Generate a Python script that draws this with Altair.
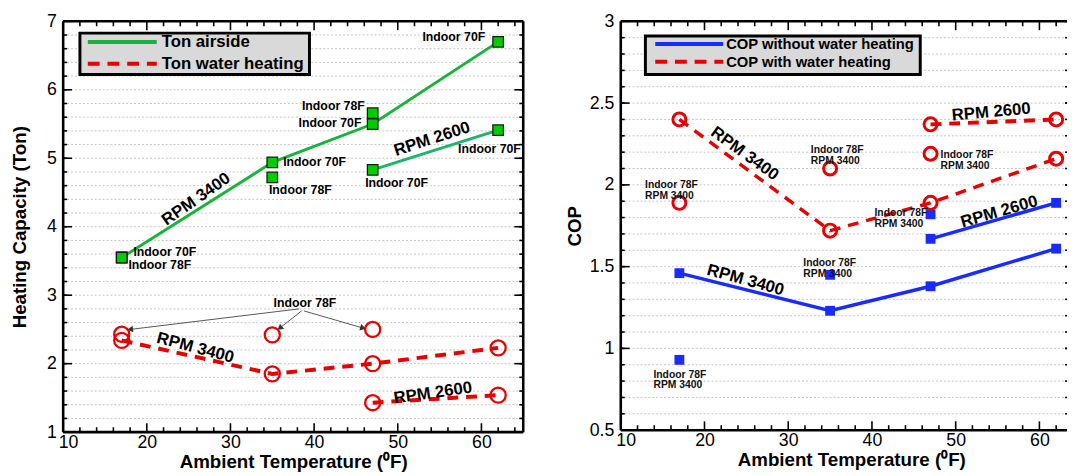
import math
import altair as alt
import pandas as pd

FONT = "Liberation Sans"

# ---------------- data: left panel (heating capacity, Ton) ----------------
t_3400 = [17, 35, 47, 62]
t_2600 = [47, 62]
t_78f = [17, 35, 47]
ton_air_3400 = [3.55, 4.94, 5.50, 6.70]
ton_air_2600 = [4.83, 5.41]
ton_air_78f = [3.55, 4.72, 5.66]
ton_wh_3400 = [2.34, 1.85, 2.00, 2.23]
ton_wh_2600 = [1.43, 1.54]
ton_wh_78f = [2.43, 2.42, 2.50]

# ---------------- data: right panel (COP) ----------------
cop_no_3400 = [1.46, 1.23, 1.38, 1.61]
cop_no_2600 = [1.67, 1.89]
cop_no_78f = [0.93, 1.45, 1.82]
cop_wh_3400 = [2.40, 1.72, 1.89, 2.16]
cop_wh_2600 = [2.37, 2.40]
cop_wh_78f = [1.89, 2.10, 2.19]

# ---------------- text / annotations ----------------
x_tick_values = [10, 20, 30, 40, 50, 60]
left_y_ticks = [1, 2, 3, 4, 5, 6, 7]
right_y_ticks = [0.5, 1, 1.5, 2, 2.5, 3]
x_title = "Ambient Temperature (⁰F)"
left_y_title = "Heating Capacity (Ton)"
right_y_title = "COP"
left_legend = ["Ton airside", "Ton water heating"]
right_legend = ["COP without water heating", "COP with water heating"]

left_rpm_text = ["RPM 3400", "RPM 2600", "RPM 3400", "RPM 2600"]
left_rpm_x = [25.9, 54.1, 25.8, 54.2]
left_rpm_y = [4.40, 5.28, 2.23, 1.57]
left_rpm_angle = [325, 342, 15, 352]

left_c_text = ["Indoor 70F", "Indoor 78F", "Indoor 70F", "Indoor 78F"]
left_c_x = [56.7, 42.3, 41.9, 38.9]
left_c_y = [6.77, 5.76, 5.52, 2.88]

left_l_text = ["Indoor 70F", "Indoor 70F", "Indoor 78F", "Indoor 70F", "Indoor 70F", "Indoor 78F"]
left_l_x = [57.2, 36.3, 34.6, 46.1, 18.4, 17.8]
left_l_y = [5.14, 4.95, 4.54, 4.64, 3.63, 3.44]

arrow_x0 = [38.2, 38.5, 38.8]
arrow_y0 = [2.80, 2.77, 2.77]
arrow_x1 = [18.0, 35.9, 45.85]
arrow_y1 = [2.50, 2.52, 2.52]

right_rpm_text = ["RPM 3400", "RPM 2600", "RPM 2600", "RPM 3400"]
right_rpm_x = [24.8, 54.25, 55.2, 24.9]
right_rpm_y = [2.19, 2.445, 1.835, 1.417]
right_rpm_angle = [36, 355, 344, 15.5]

right_note_text = "Indoor 78F\nRPM 3400"
right_note_x = [12.9, 32.7, 48.2, 40.3, 31.8, 13.9]
right_note_y = [2.00, 2.21, 2.18, 1.825, 1.52, 0.84]

# ---------------- layout ----------------
W1, H1 = 467, 417
W2, H2 = 453, 415
X1_DOM = [10, 65]
X2_DOM = [10, 63.3]
Y1_DOM = [1, 7]
Y2_DOM = [0.5, 3]

GREEN = "#19b33c"
GREEN2 = "#1fb36b"
GREEN_FILL = "#00cc00"
RED = "#e60000"
BLUE = "#1a2bff"
ONE = pd.DataFrame({"k": [0]})


def df(xs, ys, **extra):
    d = pd.DataFrame({"x": xs, "y": ys})
    for k, v in extra.items():
        d[k] = v
    return d


def frame_layers(W, H, xdom, y_major, y_minor, x_enc, y_enc, right_edge=True):
    layers = []
    # horizontal dotted grid
    layers.append(alt.Chart(pd.DataFrame({"y": y_minor})).mark_rule(
        color="#c4c4c4", strokeWidth=1, strokeDash=[2, 2]).encode(
        y=y_enc, x=alt.value(0), x2=alt.value(W)))
    # x ticks (inward, top and bottom)
    xmaj = [v for v in x_tick_values if xdom[0] < v < xdom[1]]
    xmin = [v for v in range(12, int(xdom[1]) + 1, 2) if v % 10 != 0]
    for vals, ln in ((xmaj, 9), (xmin, 5)):
        d = pd.DataFrame({"x": vals})
        layers.append(alt.Chart(d).mark_rule(color="#000", strokeWidth=1.6).encode(
            x=x_enc, y=alt.value(H), y2=alt.value(H - ln)))
        layers.append(alt.Chart(d).mark_rule(color="#000", strokeWidth=1.6).encode(
            x=x_enc, y=alt.value(0), y2=alt.value(ln)))
    # y ticks (left and right)
    for vals, ln in ((y_major, 9), (y_minor, 4)):
        d = pd.DataFrame({"y": vals})
        layers.append(alt.Chart(d).mark_rule(color="#000", strokeWidth=1.6).encode(
            y=y_enc, x=alt.value(0), x2=alt.value(ln)))
        rl = ln if right_edge else 2
        layers.append(alt.Chart(d).mark_rule(color="#000", strokeWidth=1.6).encode(
            y=y_enc, x=alt.value(W - rl), x2=alt.value(W)))
    # frame
    fw = 2.6
    layers.append(alt.Chart(ONE).mark_rule(color="#000", strokeWidth=fw).encode(
        x=alt.value(0), y=alt.value(0), y2=alt.value(H)))
    layers.append(alt.Chart(ONE).mark_rule(color="#000", strokeWidth=fw).encode(
        y=alt.value(0), x=alt.value(0), x2=alt.value(W)))
    layers.append(alt.Chart(ONE).mark_rule(color="#000", strokeWidth=fw).encode(
        y=alt.value(H), x=alt.value(0), x2=alt.value(W)))
    if right_edge:
        layers.append(alt.Chart(ONE).mark_rule(color="#000", strokeWidth=fw).encode(
            x=alt.value(W), y=alt.value(0), y2=alt.value(H)))
    return layers


def legend_layers(box, solid_color, labels, line_y, line_x, text_x, fsize):
    x0, x1, y0, y1 = box
    L = [alt.Chart(ONE).mark_rect(fill="#d9d9d9", stroke="#000", strokeWidth=3).encode(
        x=alt.value(x0), x2=alt.value(x1), y=alt.value(y0), y2=alt.value(y1))]
    L.append(alt.Chart(ONE).mark_rule(color=solid_color, strokeWidth=4).encode(
        x=alt.value(line_x[0]), x2=alt.value(line_x[1]), y=alt.value(line_y[0])))
    L.append(alt.Chart(ONE).mark_rule(color=RED, strokeWidth=4, strokeDash=[12, 8]).encode(
        x=alt.value(line_x[0]), x2=alt.value(line_x[1]), y=alt.value(line_y[1])))
    for lab, yy in zip(labels, line_y):
        L.append(alt.Chart(ONE).mark_text(
            align="left", baseline="middle", font=FONT, fontSize=fsize,
            fontWeight="bold", color="#000").encode(
            x=alt.value(text_x), y=alt.value(yy), text=alt.value(lab)))
    return L


def encs(W, xdom, ydom, y_vals, y_fmt, y_title, y_title_x, x_title_x=None):
    xs = alt.Scale(domain=xdom, nice=False, zero=False)
    ys = alt.Scale(domain=ydom, nice=False, zero=False)
    xa = dict(values=x_tick_values, format="d", tickSize=0, domain=False, grid=False,
              labelFont=FONT, labelFontSize=18, labelColor="#000", labelPadding=2,
              labelFlush=True, labelFlushOffset=5, labelOverlap=False,
              title=x_title, titleFont=FONT, titleFontSize=19, titleFontWeight="bold",
              titleColor="#000", titleY=30, titleBaseline="middle")
    if x_title_x is not None:
        xa["titleX"] = x_title_x
    ya = dict(values=y_vals, format=y_fmt, tickSize=0, domain=False, grid=False,
              labelFont=FONT, labelFontSize=18, labelColor="#000", labelPadding=7,
              labelFlush=False, labelOverlap=False,
              title=y_title, titleFont=FONT, titleFontSize=19, titleFontWeight="bold",
              titleColor="#000", titleX=y_title_x)
    x_enc = alt.X("x:Q", scale=xs, axis=alt.Axis(**xa))
    y_enc = alt.Y("y:Q", scale=ys, axis=alt.Axis(**ya))
    return x_enc, y_enc


# ======================= LEFT PANEL =======================
xL, yL = encs(W1, X1_DOM, Y1_DOM, left_y_ticks, "d", left_y_title, -34)
y1_minor = [round(1 + 0.2 * i, 1) for i in range(1, 30)]
left_layers = frame_layers(W1, H1, X1_DOM, left_y_ticks, y1_minor, xL, yL, True)

# arrows
arr = pd.DataFrame({"x": arrow_x0, "y": arrow_y0, "x2": arrow_x1, "y2": arrow_y1})
pxx = W1 / (X1_DOM[1] - X1_DOM[0])
pxy = H1 / (Y1_DOM[1] - Y1_DOM[0])
heads = []
for a, b, c, d in zip(arrow_x0, arrow_y0, arrow_x1, arrow_y1):
    dx = (c - a) * pxx
    dy = -(d - b) * pxy
    heads.append(math.degrees(math.atan2(dx, -dy)) % 360)
head_df = pd.DataFrame({"x": arrow_x1, "y": arrow_y1, "heading": heads})
left_layers.append(alt.Chart(arr).mark_rule(color="#555", strokeWidth=1).encode(
    x=xL, y=yL, x2="x2:Q", y2="y2:Q"))
left_layers.append(alt.Chart(head_df).mark_point(
    shape="triangle-up", filled=True, size=45, color="#333", opacity=1).encode(
    x=xL, y=yL, angle=alt.Angle("heading:Q", scale=None)))

# lines
left_layers.append(alt.Chart(df(t_3400, ton_air_3400)).mark_line(color=GREEN, strokeWidth=3).encode(x=xL, y=yL))
left_layers.append(alt.Chart(df(t_2600, ton_air_2600)).mark_line(color=GREEN2, strokeWidth=3).encode(x=xL, y=yL))
left_layers.append(alt.Chart(df(t_3400, ton_wh_3400)).mark_line(color=RED, strokeWidth=4, strokeDash=[11, 8]).encode(x=xL, y=yL))
left_layers.append(alt.Chart(df(t_2600, ton_wh_2600)).mark_line(color=RED, strokeWidth=4, strokeDash=[11, 8]).encode(x=xL, y=yL))

# markers
sq = dict(shape="square", filled=True, size=115, fill=GREEN_FILL, stroke="#1a1a1a", strokeWidth=1.3, opacity=1)
for xs_, ys_ in ((t_3400, ton_air_3400), (t_2600, ton_air_2600), (t_78f, ton_air_78f)):
    left_layers.append(alt.Chart(df(xs_, ys_)).mark_point(**sq).encode(x=xL, y=yL))
ci = dict(shape="circle", filled=False, size=235, color=RED, strokeWidth=2.3, opacity=1)
for xs_, ys_ in ((t_3400, ton_wh_3400), (t_2600, ton_wh_2600), (t_78f, ton_wh_78f)):
    left_layers.append(alt.Chart(df(xs_, ys_)).mark_point(**ci).encode(x=xL, y=yL))

# texts
left_layers.append(alt.Chart(df(left_rpm_x, left_rpm_y, label=left_rpm_text, angle=left_rpm_angle)).mark_text(
    font=FONT, fontSize=17, fontWeight="bold", color="#000", align="center", baseline="middle").encode(
    x=xL, y=yL, text="label:N", angle=alt.Angle("angle:Q", scale=None)))
left_layers.append(alt.Chart(df(left_c_x, left_c_y, label=left_c_text)).mark_text(
    font=FONT, fontSize=12.5, fontWeight="bold", color="#000", align="center", baseline="middle").encode(
    x=xL, y=yL, text="label:N"))
left_layers.append(alt.Chart(df(left_l_x, left_l_y, label=left_l_text)).mark_text(
    font=FONT, fontSize=12.5, fontWeight="bold", color="#000", align="left", baseline="middle").encode(
    x=xL, y=yL, text="label:N"))

left_layers += legend_layers((17, 250, 12, 54), GREEN, left_legend, (21, 43), (25, 95), 100, 17)

left = alt.layer(*left_layers).properties(width=W1, height=H1)

# ======================= RIGHT PANEL =======================
xR, yR = encs(W2, X2_DOM, Y2_DOM, right_y_ticks, "~g", right_y_title, -36.5, x_title_x=234)
y2_minor = [round(0.5 + 0.1 * i, 1) for i in range(1, 25)]
right_layers = frame_layers(W2, H2, X2_DOM, right_y_ticks, y2_minor, xR, yR, False)

right_layers.append(alt.Chart(df(t_3400, cop_wh_3400)).mark_line(color=RED, strokeWidth=3.5, strokeDash=[11, 8]).encode(x=xR, y=yR))
right_layers.append(alt.Chart(df(t_2600, cop_wh_2600)).mark_line(color=RED, strokeWidth=4, strokeDash=[11, 8]).encode(x=xR, y=yR))
right_layers.append(alt.Chart(df(t_3400, cop_no_3400)).mark_line(color=BLUE, strokeWidth=3.5).encode(x=xR, y=yR))
right_layers.append(alt.Chart(df(t_2600, cop_no_2600)).mark_line(color=BLUE, strokeWidth=3.5).encode(x=xR, y=yR))

bsq = dict(shape="square", filled=True, size=100, color=BLUE, opacity=1)
for xs_, ys_ in ((t_3400, cop_no_3400), (t_2600, cop_no_2600), (t_78f, cop_no_78f)):
    right_layers.append(alt.Chart(df(xs_, ys_)).mark_point(**bsq).encode(x=xR, y=yR))
rci = dict(shape="circle", filled=False, size=175, color=RED, strokeWidth=3, opacity=1)
for xs_, ys_ in ((t_3400, cop_wh_3400), (t_2600, cop_wh_2600), (t_78f, cop_wh_78f)):
    right_layers.append(alt.Chart(df(xs_, ys_)).mark_point(**rci).encode(x=xR, y=yR))

right_layers.append(alt.Chart(df(right_rpm_x, right_rpm_y, label=right_rpm_text, angle=right_rpm_angle)).mark_text(
    font=FONT, fontSize=17, fontWeight="bold", color="#000", align="center", baseline="middle").encode(
    x=xR, y=yR, text="label:N", angle=alt.Angle("angle:Q", scale=None)))
right_layers.append(alt.Chart(df(right_note_x, right_note_y, label=[right_note_text] * len(right_note_x))).mark_text(
    font=FONT, fontSize=10.5, fontWeight="bold", color="#111", align="left", baseline="middle",
    lineBreak="\n", lineHeight=11).encode(x=xR, y=yR, text="label:N"))

right_layers += legend_layers((25, 304, 15, 54), BLUE, right_legend, (23, 41), (35, 104), 107, 15)

right = alt.layer(*right_layers).properties(width=W2, height=H2)

chart = alt.hconcat(left, right, spacing=99, bounds="flush").properties(
    padding={"left": 2, "top": 0, "right": 0, "bottom": 0},
    background="white",
).configure_view(stroke="transparent")

chart.save("out.html", embed_options={"renderer": "svg", "actions": False})
